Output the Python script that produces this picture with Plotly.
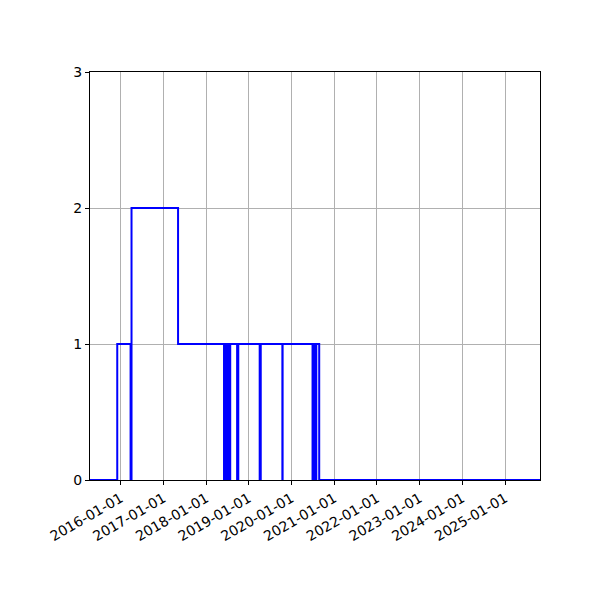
import plotly.graph_objects as go

# change points of the step series (value holds until the next date)
dates = [
    "2015-04-14", "2015-12-03", "2016-03-26", "2016-04-03", "2017-05-06",
    "2018-06-03", "2018-06-09", "2018-06-12", "2018-06-18", "2018-06-21",
    "2018-06-27", "2018-06-30", "2018-07-06", "2018-07-09", "2018-07-15",
    "2018-07-18", "2018-07-26",
    "2018-09-23", "2018-10-03",
    "2019-04-04", "2019-04-13",
    "2019-10-15", "2019-10-17",
    "2020-06-29", "2020-07-06", "2020-07-09", "2020-07-16", "2020-07-19", "2020-07-31",
    "2020-08-25", "2025-10-26",
]
counts = [
    0, 1, 0, 2, 1,
    0, 1, 0, 1, 0,
    1, 0, 1, 0, 1,
    0, 1,
    0, 1,
    0, 1,
    0, 1,
    0, 1, 0, 1, 0, 1,
    0, 0,
]

tick_dates = [f"{y}-01-01" for y in range(2016, 2026)]
y_ticks = [0, 1, 2, 3]

fig = go.Figure(go.Scatter(
    x=dates, y=counts, mode="lines", line_shape="hv",
    line=dict(color="blue", width=2), hoverinfo="skip",
))

axis_style = dict(
    showline=True, linecolor="black", linewidth=1, mirror=True,
    showgrid=True, gridcolor="#b0b0b0", gridwidth=1,
    ticks="outside", ticklen=4, tickcolor="black",
    zeroline=False, tickfont=dict(family="DejaVu Sans", size=14, color="black"),
)

# page body adds an 8px offset, margins compensate for it
fig.update_layout(
    width=600, height=600,
    margin=dict(l=82, r=68, t=64, b=128),
    plot_bgcolor="white", paper_bgcolor="white",
    showlegend=False,
    xaxis=dict(
        type="date", range=["2015-04-14", "2025-10-26"],
        tickmode="array", tickvals=tick_dates, ticktext=tick_dates,
        tickangle=-30, **axis_style,
    ),
    yaxis=dict(range=[0, 3], tickmode="array", tickvals=y_ticks, **axis_style),
)

fig.write_html("out.html")
